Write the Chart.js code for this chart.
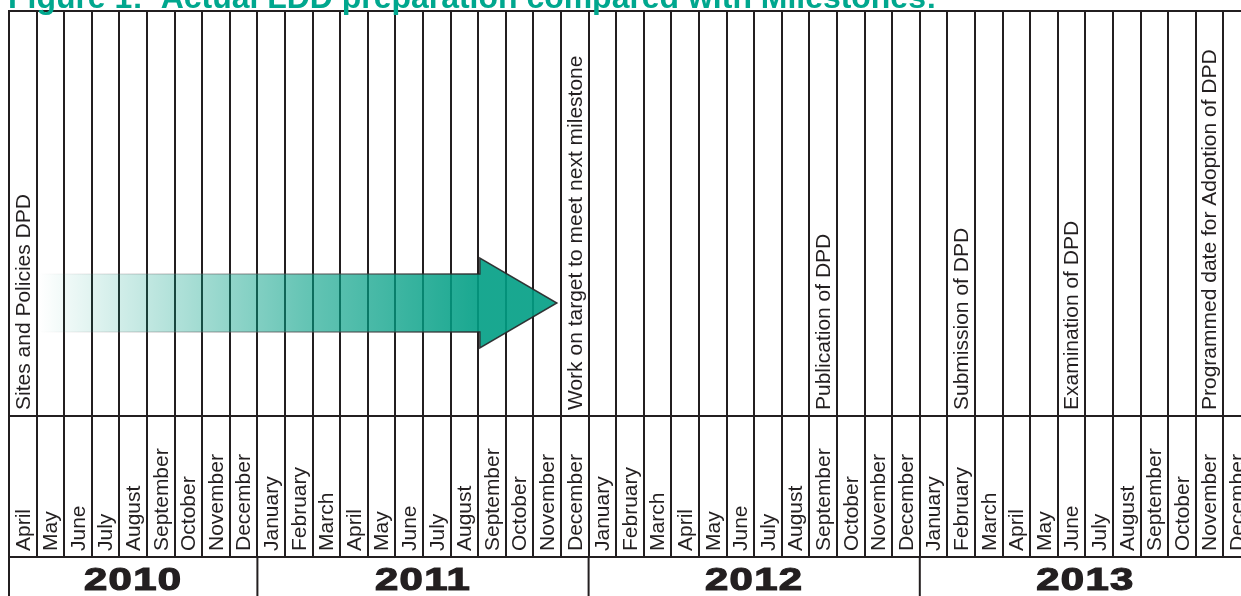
<!DOCTYPE html>
<html lang="en">
<head>
    <meta charset="UTF-8">
    <title>Actual LDD preparation compared with Milestones</title>
    <script src="https://cdn.jsdelivr.net/npm/chart.js"></script>
    <style>
        html, body {
            margin: 0;
            padding: 0;
            background: #ffffff;
            overflow: hidden;
        }
        #frame {
            width: 1241px;
            height: 596px;
            overflow: hidden;
        }
        #chartContainer {
            width: 1260px;
            height: 596px;
        }
    </style>
</head>
<body>
    <div id="frame">
        <div id="chartContainer">
            <canvas id="ldsChart"></canvas>
        </div>
    </div>
    <script>
        // one column per month, April 2010 to December 2013
        const months = [
            'April', 'May', 'June', 'July', 'August', 'September', 'October', 'November', 'December',
            'January', 'February', 'March', 'April', 'May', 'June', 'July', 'August', 'September', 'October', 'November', 'December',
            'January', 'February', 'March', 'April', 'May', 'June', 'July', 'August', 'September', 'October', 'November', 'December',
            'January', 'February', 'March', 'April', 'May', 'June', 'July', 'August', 'September', 'October', 'November', 'December'
        ];
        const years = ['2010', '2011', '2012', '2013'];
        const yearFirstMonth = [0, 9, 21, 33]; // index in months where each year starts

        const milestoneLabels = [
            'Sites and Policies DPD',
            'Work on target to meet next milestone',
            'Publication of DPD',
            'Submission of DPD',
            'Examination of DPD',
            'Programmed date for Adoption of DPD'
        ];
        const milestoneMonths = [0, 20, 29, 34, 38, 43];

        // progress arrow: month position where it fades in, month position of the tip
        const arrowMonths = [0.6, 19.35];

        const titleText = 'Figure 1:  Actual LDD preparation compared with Milestones:';

        const lineColor = '#231f20';
        const teal = '0, 158, 132';

        const timelinePlugin = {
            id: 'timeline',
            beforeDraw(chart) {
                const ctx = chart.ctx;
                ctx.save();
                ctx.fillStyle = '#ffffff';
                ctx.fillRect(0, 0, chart.width, chart.height);
                ctx.restore();
            },
            afterDraw(chart) {
                const ctx = chart.ctx;
                const a = chart.chartArea;
                const x = chart.scales.x;
                const colW = x.getPixelForValue(1) - x.getPixelForValue(0);
                const edge = i => x.getPixelForValue(i) - colW / 2;
                const splitY = a.bottom - 141;

                // progress arrow
                const xs = x.getPixelForValue(arrowMonths[0]);
                const xt = x.getPixelForValue(arrowMonths[1]);
                const headL = 77, bodyH = 58, headH = 90;
                const cy = a.top + 292;
                const xb = xt - headL;
                ctx.save();
                ctx.beginPath();
                ctx.moveTo(xs, cy - bodyH / 2);
                ctx.lineTo(xb, cy - bodyH / 2);
                ctx.lineTo(xb, cy - headH / 2);
                ctx.lineTo(xt, cy);
                ctx.lineTo(xb, cy + headH / 2);
                ctx.lineTo(xb, cy + bodyH / 2);
                ctx.lineTo(xs, cy + bodyH / 2);
                const fill = ctx.createLinearGradient(xs, 0, xb, 0);
                fill.addColorStop(0, 'rgba(' + teal + ', 0)');
                fill.addColorStop(0.6, 'rgba(' + teal + ', 0.6)');
                fill.addColorStop(1, 'rgba(' + teal + ', 0.9)');
                ctx.fillStyle = fill;
                ctx.fill();
                const stroke = ctx.createLinearGradient(xs, 0, xb, 0);
                stroke.addColorStop(0, 'rgba(120, 110, 115, 0)');
                stroke.addColorStop(0.5, 'rgba(90, 85, 88, 0.5)');
                stroke.addColorStop(1, 'rgba(40, 36, 38, 0.9)');
                ctx.strokeStyle = stroke;
                ctx.lineWidth = 1.5;
                ctx.stroke();
                ctx.restore();

                // horizontal rules and year row
                ctx.save();
                ctx.strokeStyle = lineColor;
                ctx.lineWidth = 2;
                ctx.beginPath();
                [a.top, splitY, a.bottom].forEach(y => {
                    ctx.moveTo(a.left - 1, y);
                    ctx.lineTo(a.right + 1, y);
                });
                ctx.moveTo(edge(0), a.bottom);
                ctx.lineTo(edge(0), chart.height);
                yearFirstMonth.forEach(i => {
                    ctx.moveTo(edge(i), a.bottom);
                    ctx.lineTo(edge(i), chart.height);
                });
                ctx.stroke();

                // year labels: heavy, wide figures
                ctx.fillStyle = lineColor;
                ctx.strokeStyle = lineColor;
                ctx.lineWidth = 1.2;
                ctx.font = 'bold 31px "Liberation Sans", Arial, sans-serif';
                ctx.letterSpacing = '1px';
                ctx.textAlign = 'center';
                ctx.textBaseline = 'alphabetic';
                years.forEach((yr, k) => {
                    const from = edge(yearFirstMonth[k]);
                    const to = k + 1 < years.length ? edge(yearFirstMonth[k + 1]) : edge(months.length);
                    ctx.save();
                    ctx.translate((from + to) / 2, a.bottom + 33);
                    ctx.scale(1.35, 1);
                    ctx.fillText(yr, 0, 0);
                    ctx.strokeText(yr, 0, 0);
                    ctx.restore();
                });
                ctx.letterSpacing = '0px';

                // month names, reading upwards
                ctx.font = '21px "Liberation Sans", Arial, sans-serif';
                ctx.textAlign = 'left';
                ctx.textBaseline = 'middle';
                months.forEach((m, i) => {
                    ctx.save();
                    ctx.translate(x.getPixelForValue(i) + 1, a.bottom - 6);
                    ctx.rotate(-Math.PI / 2);
                    ctx.fillText(m, 0, 0);
                    ctx.restore();
                });

                // milestone texts
                ctx.font = '21px "Liberation Sans", Arial, sans-serif';
                milestoneLabels.forEach((t, k) => {
                    ctx.save();
                    ctx.translate(x.getPixelForValue(milestoneMonths[k]) + 1, splitY - 6);
                    ctx.rotate(-Math.PI / 2);
                    ctx.fillText(t, 0, 0);
                    ctx.restore();
                });

                // title, cut off by the top of the page
                ctx.fillStyle = '#00a78e';
                let size = 24;
                ctx.font = 'bold ' + size + 'px "Liberation Sans", Arial, sans-serif';
                size = size * 929 / ctx.measureText(titleText).width;
                ctx.font = 'bold ' + size + 'px "Liberation Sans", Arial, sans-serif';
                ctx.textAlign = 'left';
                ctx.textBaseline = 'alphabetic';
                ctx.fillText(titleText, 8, 8);
                ctx.restore();
            }
        };

        const ctx = document.getElementById('ldsChart').getContext('2d');
        const ldsChart = new Chart(ctx, {
            type: 'bar',
            data: {
                labels: months,
                datasets: [{
                    label: 'Milestones',
                    data: []
                }]
            },
            options: {
                responsive: true,
                maintainAspectRatio: false,
                animation: false,
                layout: {
                    padding: { left: 9, right: 9, top: 11, bottom: 39 }
                },
                plugins: {
                    legend: { display: false },
                    tooltip: { enabled: false },
                    title: { display: false }
                },
                scales: {
                    x: {
                        type: 'category',
                        offset: true,
                        grid: {
                            offset: true,
                            color: lineColor,
                            lineWidth: 2,
                            drawTicks: false
                        },
                        border: { display: false },
                        ticks: { display: false }
                    },
                    y: {
                        display: false,
                        min: 0,
                        max: 1
                    }
                }
            },
            plugins: [timelinePlugin]
        });
    </script>
</body>
</html>
